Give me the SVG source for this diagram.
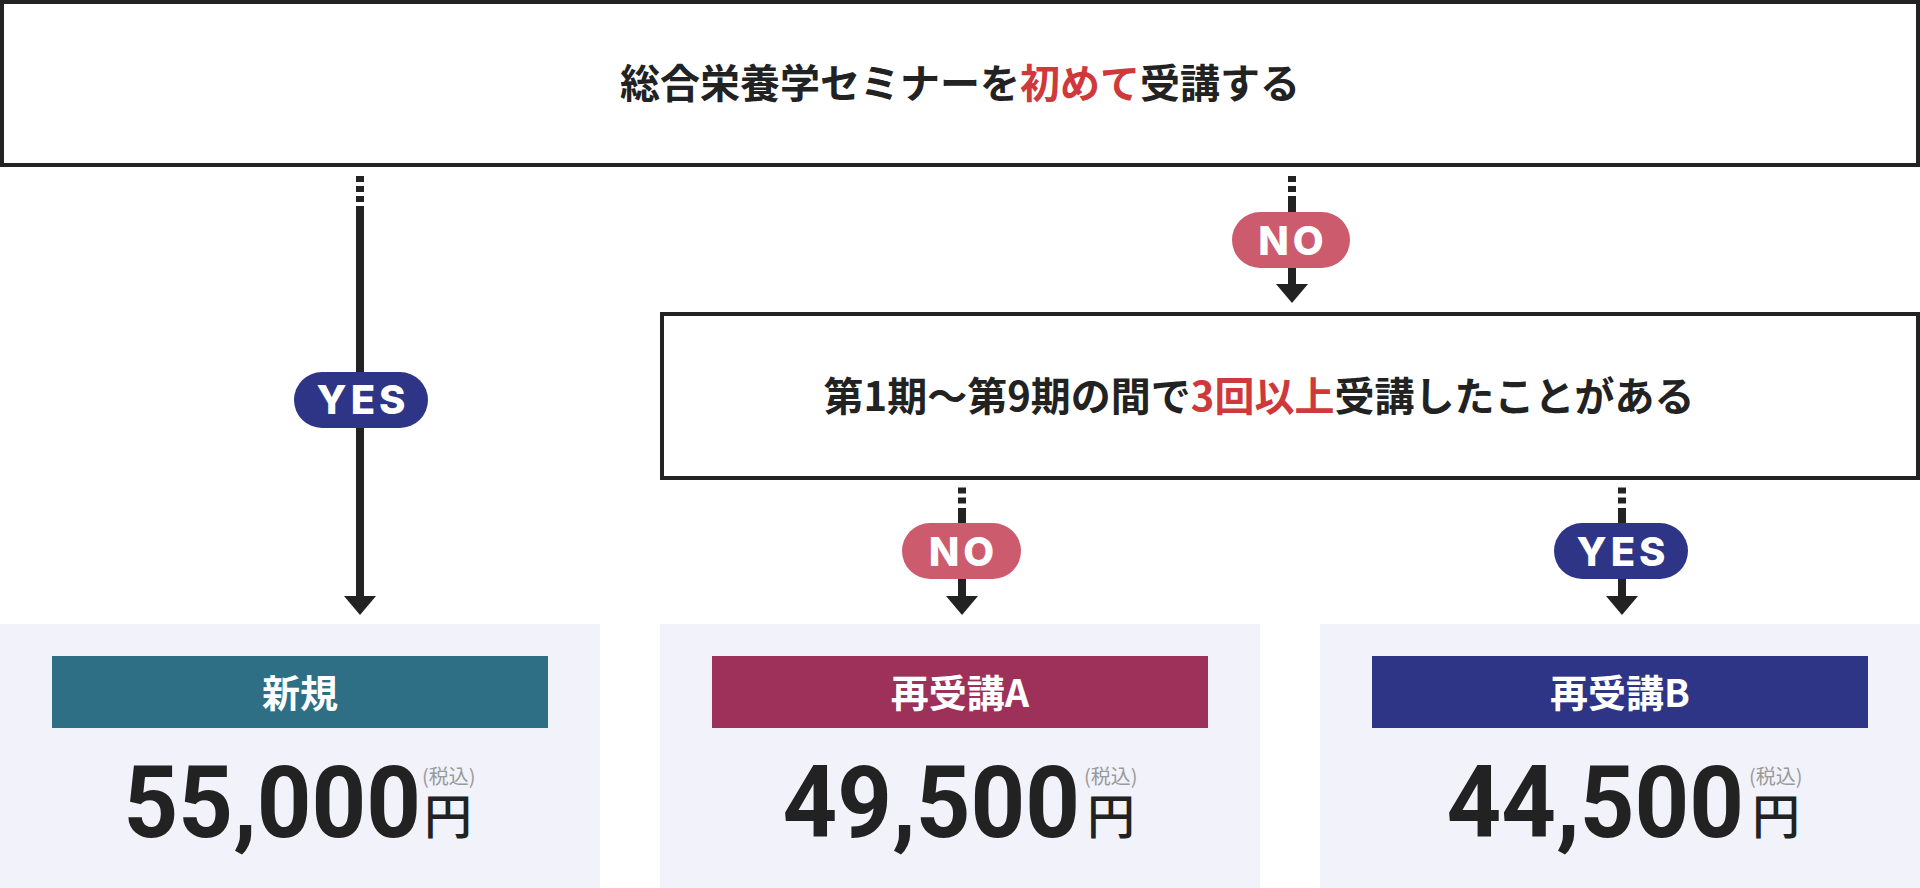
<svg xmlns="http://www.w3.org/2000/svg" width="1920" height="888" viewBox="0 0 1920 888">
<defs>
<style>
.jp{font-family:"Noto Sans CJK JP","Noto Sans",sans-serif;font-weight:700;fill:#222222}
.red{fill:#d0393b}
.box{fill:#ffffff;stroke:#222222;stroke-width:4}
.panel{fill:#f1f2fa}
.hdr{font-family:"Noto Sans CJK JP","Noto Sans",sans-serif;font-weight:700;font-size:38px;fill:#ffffff;text-anchor:middle}
.price{font-family:Roboto,"Liberation Sans",sans-serif;font-weight:700;font-size:100px;fill:#222222;text-anchor:end}
.yen{font-family:"Noto Sans CJK JP",sans-serif;font-weight:500;font-size:48px;fill:#222222}
.tax{font-family:"Noto Sans CJK JP",sans-serif;font-weight:400;font-size:20px;fill:#9a9a9a}
.pilltext{font-family:Inter,"Open Sans",sans-serif;font-weight:800;font-size:40px;fill:#ffffff;text-anchor:middle;letter-spacing:4px}
.no{fill:#cd5b6e}
.yes{fill:#2e3586}
.solid{stroke:#222222;stroke-width:8;fill:none}
.dash{stroke:#222222;stroke-width:8;fill:none;stroke-dasharray:6 4}
.head{fill:#222222}
</style>
</defs>

<g id="q1">
<rect class="box" x="2" y="2" width="1916" height="163"/>
<text class="jp" x="960" y="98" font-size="40" text-anchor="middle">総合栄養学セミナーを<tspan class="red">初めて</tspan>受講する</text>
</g>

<g id="q2">
<rect class="box" x="662" y="314" width="1256" height="164"/>
<text class="jp" x="1259" y="411" font-size="40" text-anchor="middle">第1期〜第9期の間で<tspan class="red">3回以上</tspan>受講したことがある</text>
</g>

<g id="connectors">
<line class="dash" x1="360" y1="176" x2="360" y2="202"/>
<line class="solid" x1="360" y1="206" x2="360" y2="598"/>
<path class="head" d="M344 596 L376 596 L360 615 Z"/>

<line class="dash" x1="1292" y1="176" x2="1292" y2="192"/>
<line class="solid" x1="1292" y1="196" x2="1292" y2="286"/>
<path class="head" d="M1276 284 L1308 284 L1292 303 Z"/>

<line class="dash" x1="962" y1="487.5" x2="962" y2="503.5"/>
<line class="solid" x1="962" y1="508" x2="962" y2="598"/>
<path class="head" d="M946 596 L978 596 L962 615 Z"/>

<line class="dash" x1="1622" y1="487.5" x2="1622" y2="503.5"/>
<line class="solid" x1="1622" y1="508" x2="1622" y2="598"/>
<path class="head" d="M1606 596 L1638 596 L1622 615 Z"/>
</g>

<g id="label-no-1">
<rect class="no" x="1232" y="212" width="118" height="56" rx="28"/>
<text class="pilltext" x="1293" y="254.5">NO</text>
</g>
<g id="label-yes-1">
<rect class="yes" x="294" y="372" width="134" height="56" rx="28"/>
<text class="pilltext" x="363" y="414">YES</text>
</g>
<g id="label-no-2">
<rect class="no" x="902" y="523" width="119" height="56" rx="28"/>
<text class="pilltext" x="963.5" y="566">NO</text>
</g>
<g id="label-yes-2">
<rect class="yes" x="1554" y="523" width="134" height="56" rx="28"/>
<text class="pilltext" x="1623" y="566">YES</text>
</g>

<g id="plan-new">
<rect class="panel" x="0" y="624" width="600" height="264"/>
<rect x="52" y="656" width="496" height="72" fill="#2e6f86"/>
<text class="hdr" x="300" y="707">新規</text>
<text class="price" x="421" y="837" transform="translate(421 0) scale(0.955 1) translate(-421 0)">55,000</text>
<text class="yen" x="424" y="834">円</text>
<text class="tax" x="422" y="784">(税込)</text>
</g>

<g id="plan-a">
<rect class="panel" x="660" y="624" width="600" height="264"/>
<rect x="712" y="656" width="496" height="72" fill="#9e3159"/>
<text class="hdr" x="960" y="707">再受講A</text>
<text class="price" x="1080" y="837" transform="translate(1080 0) scale(0.955 1) translate(-1080 0)">49,500</text>
<text class="yen" x="1087" y="834">円</text>
<text class="tax" x="1084" y="784">(税込)</text>
</g>

<g id="plan-b">
<rect class="panel" x="1320" y="624" width="600" height="264"/>
<rect x="1372" y="656" width="496" height="72" fill="#2e3586"/>
<text class="hdr" x="1620" y="707">再受講B</text>
<text class="price" x="1744" y="837" transform="translate(1744 0) scale(0.955 1) translate(-1744 0)">44,500</text>
<text class="yen" x="1752" y="834">円</text>
<text class="tax" x="1749" y="784">(税込)</text>
</g>
</svg>
